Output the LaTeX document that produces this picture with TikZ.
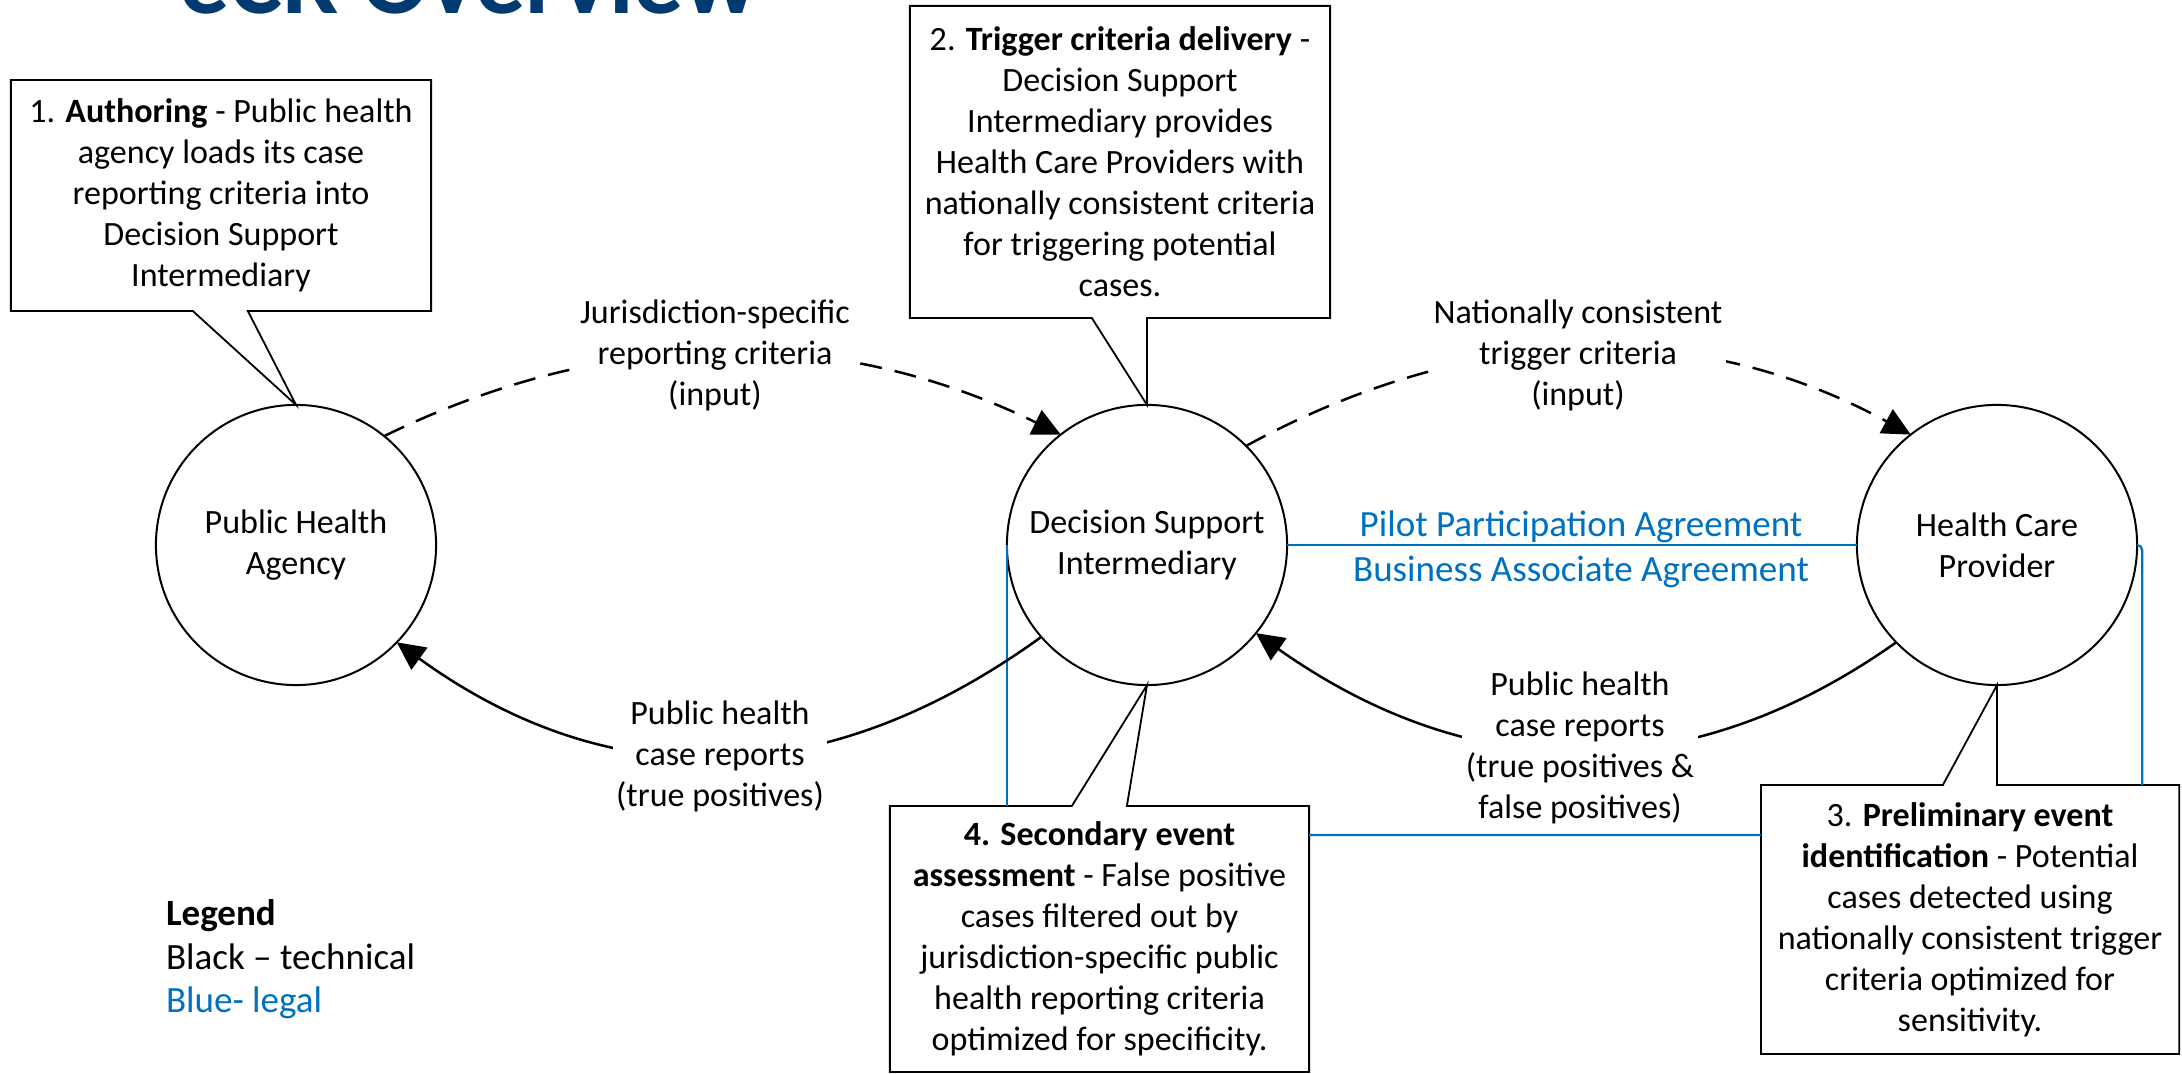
\documentclass[tikz,border=0pt]{standalone}
\usepackage{fontspec}
\setmainfont{Carlito}
\usetikzlibrary{arrows.meta,calc}
\definecolor{ttl}{RGB}{0,58,112}
\definecolor{lgl}{RGB}{0,112,192}
\begin{document}
\begin{tikzpicture}[x=0.01cm,y=-0.01cm,
  every node/.style={inner sep=0pt, outer sep=0pt},
  txt/.style={font=\fontsize{9.68pt}{11.67pt}\selectfont},
  bigtxt/.style={font=\fontsize{10.53pt}{12.7pt}\selectfont},
  actor/.style={circle, draw, line width=0.02cm, minimum size=2.8cm, align=center, txt},
  callbox/.style={rectangle, align=center, txt},
  callout/.style={draw, line width=0.018cm, line join=miter},
  flow/.style={draw, line width=0.025cm, -{Triangle[length=0.28cm,width=0.27cm]}},
  input/.style={flow, dash pattern=on 0.22cm off 0.13cm},
  flowlbl/.style={fill=white, align=center, inner sep=1pt, txt},
  legal/.style={draw=lgl, line width=0.022cm},
  legaltext/.style={text=lgl, bigtxt, anchor=base}
]
\useasboundingbox (0,0) rectangle (2182,1074);
\clip (0,0) rectangle (2182,1074);
\fill[white] (0,0) rectangle (2182,1074);

% title (cut off at top, as in the reference)
\node[anchor=base west, text=ttl, font=\fontsize{28.45pt}{30pt}\selectfont\bfseries] (title) at (179,14) {eCR Overview};

% actors
\node[actor] (pha) at (296,545) {Public Health\\Agency};
\node[actor] (dsi) at (1147,545) {Decision Support\\Intermediary};
\node[actor] (hcp) at (1997,545) {Health Care\\Provider};

% callout boxes
\node[callbox, minimum width=4.2cm, minimum height=2.31cm] (b1) at (221,195.5)
  {1. \textbf{Authoring} - Public health\\agency loads its case\\reporting criteria into\\Decision Support\\Intermediary};
\node[callbox, minimum width=4.2cm, minimum height=3.12cm] (b2) at (1120,162)
  {2. \textbf{Trigger criteria delivery} -\\Decision Support\\Intermediary provides\\Health Care Providers with\\nationally consistent criteria\\for triggering potential\\cases.};
\node[callbox, minimum width=4.18cm, minimum height=2.69cm] (b3) at (1970,919.5)
  {3. \textbf{Preliminary event}\\\textbf{identification} - Potential\\cases detected using\\nationally consistent trigger\\criteria optimized for\\sensitivity.};
\node[callbox, minimum width=4.19cm, minimum height=2.66cm] (b4) at (1099.5,939)
  {\textbf{4. Secondary event}\\\textbf{assessment} - False positive\\cases filtered out by\\jurisdiction-specific public\\health reporting criteria\\optimized for specificity.};

% callout outlines with pointers
\draw[callout] (b1.north west) -- (b1.north east) -- (b1.south east)
  -- ($(b1.south west)+(237,0)$) -- (pha.north) -- ($(b1.south west)+(182,0)$) -- (b1.south west) -- cycle;
\draw[callout] (b2.north west) -- (b2.north east) -- (b2.south east)
  -- (dsi.north |- b2.south) -- (dsi.north) -- ($(b2.south west)+(182,0)$) -- (b2.south west) -- cycle;
\draw[callout] (b3.south west) -- (b3.south east) -- (b3.north east)
  -- (hcp.south |- b3.north) -- (hcp.south) -- ($(b3.north west)+(182,0)$) -- (b3.north west) -- cycle;
\draw[callout] (b4.south west) -- (b4.south east) -- (b4.north east)
  -- ($(b4.north west)+(237,0)$) -- (dsi.south) -- ($(b4.north west)+(182,0)$) -- (b4.north west) -- cycle;

% legal (blue) lines
\draw[legal] (dsi.east) -- (hcp.west);
\draw[legal] (dsi.west) -- (dsi.west |- b4.north);
\draw[legal] ($(b3.north west)+(0,50)$) -- ($(b4.north east)+(0,29)$);
\draw[legal, rounded corners=0.05cm] (hcp.east) -| ($(b3.north east)+(-37,0)$);
\node[legaltext] (ppa) at (1581,537) {Pilot Participation Agreement};
\node[legaltext] (baa) at (1581,582) {Business Associate Agreement};

% technical flows
\draw[input] (pha.51) .. controls +(225,-110) and +(-225,-110) .. (dsi.128);
\draw[input] (dsi.45) .. controls +(220,-120) and +(-220,-120) .. (hcp.128);
\draw[flow] (dsi.221) .. controls +(-214,155) and +(214,155) .. (pha.316);
\draw[flow] (hcp.224) .. controls +(-212,150) and +(212,150) .. (dsi.321);

\node[flowlbl] (l1) at (715,355) {Jurisdiction-specific\\reporting criteria\\(input)};
\node[flowlbl] (l2) at (1578,355) {Nationally consistent\\trigger criteria\\(input)};
\node[flowlbl] (l3) at (720,756) {Public health\\case reports\\(true positives)};
\node[flowlbl] (l4) at (1580,748) {Public health\\case reports\\(true positives \&\\false positives)};

% legend
\node[anchor=base west, font=\fontsize{10.53pt}{12.7pt}\selectfont\bfseries] (lg1) at (166,926) {Legend};
\node[anchor=base west, bigtxt] (lg2) at (166,970) {Black -- technical};
\node[anchor=base west, bigtxt, text=lgl] (lg3) at (166,1013) {Blue- legal};
\end{tikzpicture}
\end{document}
